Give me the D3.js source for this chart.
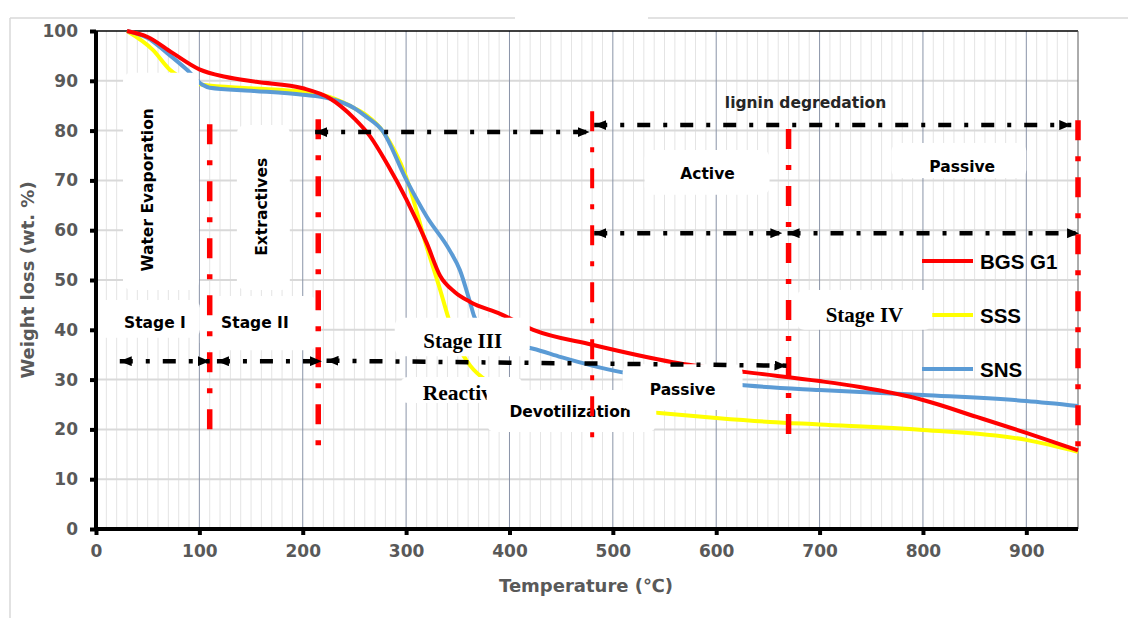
<!DOCTYPE html>
<html><head><meta charset="utf-8">
<script src="https://cdn.jsdelivr.net/npm/d3@7"></script>
<style>html,body{margin:0;padding:0;background:#fff;}svg{display:block}</style>
</head><body><svg id="c" width="1128" height="618"></svg>
<script>
// ---------- data ----------
const seriesNames = ["BGS G1", "SSS", "SNS"];
const seriesColors = ["#ff0000", "#ffff00", "#5b9bd5"];

const bgsTemp = [30, 50, 74, 100, 125, 155, 200, 226, 250, 265, 282, 300, 320, 333, 347, 362, 391, 423, 480, 558, 629, 700, 739, 800, 852, 900, 950];
const bgsLoss = [100, 98.8, 95.6, 92.3, 90.8, 89.8, 88.5, 86.5, 82.4, 78.9, 73.2, 66.3, 57.4, 50.8, 47.6, 45.6, 43.2, 40, 37, 33.5, 31.5, 29.7, 28.5, 25.9, 22.5, 19.3, 15.8];

const sssTemp = [30, 55, 71.5, 90, 103, 150, 200, 225, 250, 262, 277, 300, 320, 333, 340, 347, 355, 362, 380, 400, 450, 500, 545, 600, 652, 700, 800, 900, 950];
const sssLoss = [100, 96.2, 92.2, 89.9, 89.2, 88.5, 87.8, 86.8, 84.5, 83, 80, 70.7, 56.6, 48, 43, 38.5, 35, 32.8, 29.5, 27.5, 25.5, 24.2, 23.3, 22.3, 21.5, 21, 19.9, 17.9, 15.5];

const snsTemp = [30, 50, 68.6, 88, 103, 110, 150, 200, 225, 250, 262, 277, 300, 320, 342, 352, 362, 366, 380, 400, 423, 450, 480, 508, 550, 600, 630, 700, 800, 900, 950];
const snsLoss = [100, 98.6, 95.6, 92.2, 89.2, 88.6, 88, 87.2, 86.5, 84.5, 82.7, 80, 70.2, 62.7, 56, 52, 45.4, 42.6, 39, 37.2, 36.2, 34.5, 32.8, 31.5, 30.3, 29.4, 28.8, 27.9, 26.9, 25.7, 24.7];

const xTicks = [0, 100, 200, 300, 400, 500, 600, 700, 800, 900];
const yTicks = [0, 10, 20, 30, 40, 50, 60, 70, 80, 90, 100];
const xTitle = "Temperature (\u2103)";
const yTitle = "Weight loss (wt. %)";

// stage boundary lines: temperature, top, bottom (wt%)
const boundTemps = [110, 215, 480, 670, 950];
const boundTop = [81.3, 82.3, 83.9, 80.3, 82.1];
const boundBottom = [18.3, 14.7, 15.3, 17.3, 14.3];

// double-headed arrows: t1, w1, t2, w2
const arrowT1 = [23, 117, 223, 212, 482, 482, 669];
const arrowW1 = [33.7, 33.7, 33.8, 79.7, 81.1, 59.4, 59.4];
const arrowT2 = [110, 218.5, 668, 477.5, 943.5, 664, 951];
const arrowW2 = [33.7, 33.7, 32.8, 79.7, 81.1, 59.4, 59.4];

// ---------- setup ----------
const svg = d3.select("#c");
const x = d3.scaleLinear().domain([0, 950]).range([96, 1078]);
const y = d3.scaleLinear().domain([0, 100]).range([529, 31]);

const sans = "'DejaVu Sans', Verdana, sans-serif";
const serif = "'Liberation Serif', 'Times New Roman', serif";
const arial = "'Liberation Sans', Arial, sans-serif";

const defs = svg.append("defs");

// outer frame
const frame = svg.append("g").attr("stroke", "#d9d9d9").attr("stroke-width", 1.5);
frame.append("line").attr("x1", 10).attr("y1", 18).attr("x2", 515).attr("y2", 18);
frame.append("line").attr("x1", 648).attr("y1", 18).attr("x2", 1128).attr("y2", 18);
frame.append("line").attr("x1", 10).attr("y1", 18).attr("x2", 10).attr("y2", 618);

// gridlines
const grid = svg.append("g");
grid.selectAll(".mx").data(d3.range(10, 950, 10).filter(d => d % 100 !== 0)).join("line")
  .attr("x1", d => x(d)).attr("x2", d => x(d)).attr("y1", y(100)).attr("y2", y(0))
  .attr("stroke", "#e4e4e4").attr("stroke-width", 1);
grid.selectAll(".hy").data(yTicks.filter(d => d > 0 && d < 100)).join("line")
  .attr("x1", x(0)).attr("x2", x(950)).attr("y1", d => y(d)).attr("y2", d => y(d))
  .attr("stroke", "#d9d9d9").attr("stroke-width", 2);
grid.selectAll(".Mx").data(xTicks.filter(d => d > 0)).join("line")
  .attr("x1", d => x(d)).attr("x2", d => x(d)).attr("y1", y(100)).attr("y2", y(0))
  .attr("stroke", "#8a94a8").attr("stroke-width", 1);
grid.append("line").attr("x1", x(0)).attr("x2", x(950)).attr("y1", y(100)).attr("y2", y(100))
  .attr("stroke", "#000").attr("stroke-width", 1.5);
grid.append("line").attr("x1", x(950)).attr("x2", x(950)).attr("y1", y(100)).attr("y2", y(0))
  .attr("stroke", "#595959").attr("stroke-width", 1);

// curves
const series = [
  {t: bgsTemp, w: bgsLoss},
  {t: sssTemp, w: sssLoss},
  {t: snsTemp, w: snsLoss}
];
const line = d3.line().x(d => x(d[0])).y(d => y(d[1])).curve(d3.curveMonotoneX);
const drawOrder = [1, 2, 0];
drawOrder.forEach(i => {
  const pts = series[i].t.map((t, k) => [t, series[i].w[k]]);
  svg.append("path").attr("d", line(pts)).attr("fill", "none")
    .attr("stroke", seriesColors[i]).attr("stroke-width", 4).attr("stroke-linejoin", "round");
});

// legend
const leg = svg.append("g");
seriesNames.forEach((n, i) => {
  const ly = 261 + i * 54;
  leg.append("line").attr("x1", 922).attr("x2", 973).attr("y1", ly).attr("y2", ly)
    .attr("stroke", seriesColors[i]).attr("stroke-width", 4);
  leg.append("text").attr("x", 980).attr("y", ly + 7.5).text(n)
    .attr("font-family", arial).attr("font-weight", "bold").attr("font-size", 20.5).attr("fill", "#000");
});

// annotation boxes + texts (data coordinates)
const notes = [
  {b: [26.1, 91.6, 99.6, 48.0], text: "Water Evaporation", t: 50.3, w: 68.1, rot: true, font: sans, size: 15.5},
  {b: [136.3, 81.1, 187.5, 48.0], text: "Extractives", t: 160.5, w: 64.7, rot: true, font: sans, size: 15.5},
  {b: [1, 46, 100.5, 38.4], text: "Stage I", t: 57, w: 40.4, font: sans, size: 15.5},
  {b: [100.5, 46.8, 213.6, 35.9], text: "Stage II", t: 153.7, w: 40.4, font: sans, size: 15.5},
  {b: [289, 42.4, 419.6, 34.7], text: "Stage III", t: 354.8, w: 36.3, font: serif, size: 21},
  {b: [294, 30.5, 413, 25.3], text: "Reactive", t: 316, w: 25.9, font: serif, size: 21.5, anchor: "start", clipTo: 378},
  {b: [378, 27.9, 542, 19.5], text: "Devotilization", t: 400, w: 22.5, font: sans, size: 15.5, anchor: "start"},
  {b: [509.5, 33.1, 625.5, 23.9], text: "Passive", t: 567.5, w: 26.9, font: sans, size: 15.5},
  {b: [530.7, 76.1, 651.6, 67.1], text: "Active", t: 591.6, w: 70.3, font: sans, size: 15.5},
  {b: [769.5, 77.5, 900, 70.5], text: "Passive", t: 838, w: 71.7, font: sans, size: 15.5},
  {b: [677.7, 48, 809, 40], text: "Stage IV", t: 743.4, w: 41.6, font: serif, size: 21}
];
const ann = svg.append("g");
notes.forEach((n, idx) => {
  ann.append("rect").attr("x", x(n.b[0])).attr("y", y(n.b[1]))
    .attr("width", x(n.b[2]) - x(n.b[0])).attr("height", y(n.b[3]) - y(n.b[1]))
    .attr("rx", 8).attr("fill", "#fff");
  const tx = ann.append("text").text(n.text)
    .attr("font-family", n.font).attr("font-weight", "bold").attr("font-size", n.size).attr("fill", "#000");
  if (n.rot) {
    tx.attr("transform", `translate(${x(n.t)},${y(n.w)}) rotate(-90)`)
      .attr("text-anchor", "middle").attr("dominant-baseline", "central");
  } else {
    tx.attr("x", x(n.t)).attr("y", y(n.w)).attr("text-anchor", n.anchor || "middle");
  }
  if (n.clipTo !== undefined) {
    const id = "clip" + idx;
    defs.append("clipPath").attr("id", id).append("rect")
      .attr("x", x(n.b[0])).attr("y", y(n.b[1]) - 10)
      .attr("width", x(n.clipTo) - x(n.b[0])).attr("height", y(n.b[3]) - y(n.b[1]) + 20);
    tx.attr("clip-path", `url(#${id})`);
  }
});
ann.append("text").text("lignin degredation").attr("x", x(686.4)).attr("y", y(84.5))
  .attr("text-anchor", "middle").attr("font-family", sans).attr("font-weight", "bold")
  .attr("font-size", 15.5).attr("fill", "#262626");

// red stage boundary lines
svg.append("g").selectAll("line").data(boundTemps).join("line")
  .attr("x1", d => x(d)).attr("x2", d => x(d))
  .attr("y1", (d, i) => y(boundTop[i])).attr("y2", (d, i) => y(boundBottom[i]))
  .attr("stroke", "#ff0000").attr("stroke-width", (d, i) => i === 2 ? 4 : 5.5)
  .attr("stroke-dasharray", "20,16,5,16");

// arrows
defs.append("marker").attr("id", "ah").attr("viewBox", "0 0 12 10")
  .attr("refX", 12).attr("refY", 5).attr("markerWidth", 12).attr("markerHeight", 10)
  .attr("markerUnits", "userSpaceOnUse").attr("orient", "auto-start-reverse")
  .append("path").attr("d", "M0,0 L12,5 L0,10 Z").attr("fill", "#000");
svg.append("g").selectAll("line").data(arrowT1).join("line")
  .attr("x1", d => x(d)).attr("y1", (d, i) => y(arrowW1[i]))
  .attr("x2", (d, i) => x(arrowT2[i])).attr("y2", (d, i) => y(arrowW2[i]))
  .attr("stroke", "#000").attr("stroke-width", 4.5)
  .attr("stroke-dasharray", "13,13,4,13")
  .attr("marker-start", "url(#ah)").attr("marker-end", "url(#ah)");

// axes
const axL = svg.append("g").attr("transform", `translate(${x(0)},0)`)
  .call(d3.axisLeft(y).tickValues(yTicks).tickSize(6).tickSizeOuter(0).tickPadding(12));
const axB = svg.append("g").attr("transform", `translate(0,${y(0)})`)
  .call(d3.axisBottom(x).tickValues(xTicks).tickSize(6).tickSizeOuter(0).tickPadding(10));
[axL, axB].forEach(a => {
  a.select(".domain").remove();
  a.selectAll(".tick line").attr("stroke", "#000").attr("stroke-width", 4);
  a.selectAll(".tick text").attr("font-family", sans).attr("font-weight", "bold")
    .attr("font-size", 17).attr("fill", "#595959");
});
svg.append("line").attr("x1", x(0)).attr("x2", x(0)).attr("y1", y(100)).attr("y2", y(0) + 2)
  .attr("stroke", "#000").attr("stroke-width", 4);
svg.append("line").attr("x1", x(0) - 2).attr("x2", x(950)).attr("y1", y(0)).attr("y2", y(0))
  .attr("stroke", "#000").attr("stroke-width", 4);

svg.append("text").text(xTitle).attr("x", 586).attr("y", 592).attr("text-anchor", "middle")
  .attr("font-family", sans).attr("font-weight", "bold").attr("font-size", 18).attr("fill", "#595959");
svg.append("text").text(yTitle).attr("transform", "translate(27,280) rotate(-90)")
  .attr("text-anchor", "middle").attr("dominant-baseline", "central")
  .attr("font-family", sans).attr("font-weight", "bold").attr("font-size", 18).attr("fill", "#595959");
</script></body></html>
